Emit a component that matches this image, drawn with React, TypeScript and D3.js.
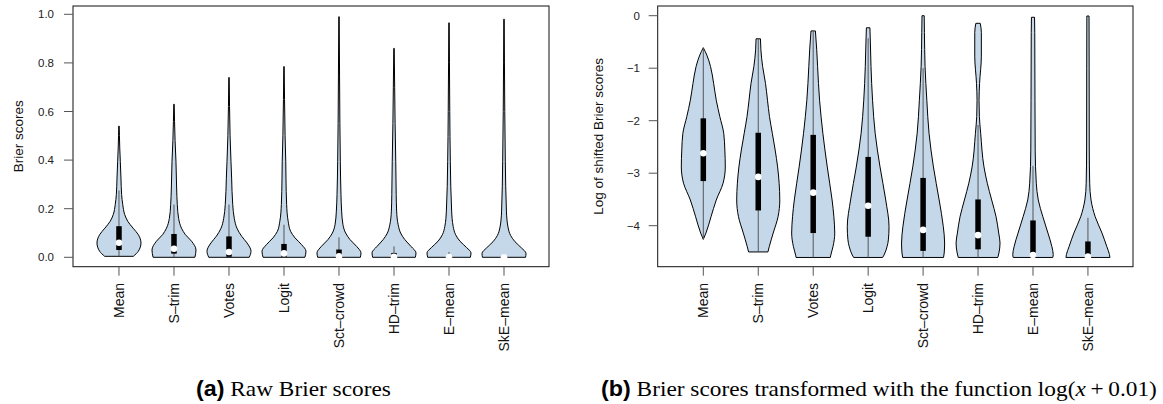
import React, { useEffect, useRef } from "react";
import * as d3 from "d3";

const methods = ["Mean", "S–trim", "Votes", "Logit", "Sct–crowd", "HD–trim", "E–mean", "SkE–mean"];

// raw Brier scores: [lower whisker, q1, median, q3, upper whisker]
const rawStats = [
  [0.004, 0.03, 0.06, 0.128, 0.275],
  [0, 0.015, 0.035, 0.096, 0.217],
  [0, 0.002, 0.022, 0.086, 0.217],
  [0, 0.002, 0.016, 0.055, 0.134],
  [0, 0, 0.004, 0.032, 0.082],
  [0, 0, 0.002, 0.018, 0.045],
  [0, 0, 0.001, 0.009, 0.022],
  [0, 0, 0.0005, 0.004, 0.01],
];

// violin outline: [score, width relative to widest]
const rawShapes = [
  [[0.004, 0.65], [0.025, 0.88], [0.059, 1.0], [0.093, 0.88], [0.12, 0.64], [0.148, 0.4], [0.176, 0.26], [0.217, 0.17], [0.258, 0.12], [0.326, 0.09], [0.395, 0.06], [0.45, 0.035], [0.5, 0.02], [0.54, 0.01]],
  [[0, 0.95], [0.03, 1.0], [0.066, 0.8], [0.093, 0.52], [0.12, 0.34], [0.16, 0.21], [0.217, 0.15], [0.285, 0.12], [0.395, 0.09], [0.48, 0.05], [0.56, 0.025], [0.63, 0.01]],
  [[0, 0.92], [0.025, 1.0], [0.059, 0.82], [0.086, 0.58], [0.12, 0.36], [0.16, 0.24], [0.217, 0.17], [0.326, 0.12], [0.395, 0.09], [0.5, 0.05], [0.62, 0.025], [0.74, 0.01]],
  [[0, 0.95], [0.025, 1.0], [0.052, 0.8], [0.08, 0.5], [0.107, 0.3], [0.148, 0.19], [0.217, 0.12], [0.326, 0.09], [0.395, 0.08], [0.5, 0.05], [0.65, 0.025], [0.785, 0.01]],
  [[0, 0.97], [0.018, 1.0], [0.045, 0.8], [0.073, 0.5], [0.1, 0.3], [0.134, 0.18], [0.19, 0.12], [0.258, 0.09], [0.395, 0.06], [0.55, 0.04], [0.75, 0.025], [0.99, 0.01]],
  [[0, 0.97], [0.018, 1.0], [0.045, 0.77], [0.073, 0.49], [0.1, 0.3], [0.134, 0.19], [0.19, 0.12], [0.258, 0.1], [0.395, 0.08], [0.55, 0.05], [0.7, 0.03], [0.86, 0.01]],
  [[0, 0.97], [0.018, 1.0], [0.04, 0.8], [0.066, 0.5], [0.093, 0.3], [0.127, 0.19], [0.19, 0.12], [0.395, 0.06], [0.6, 0.035], [0.8, 0.02], [0.965, 0.01]],
  [[0, 0.98], [0.016, 1.0], [0.038, 0.8], [0.064, 0.5], [0.09, 0.3], [0.125, 0.18], [0.19, 0.11], [0.395, 0.06], [0.6, 0.035], [0.8, 0.02], [0.98, 0.01]],
];

const rawTicks = [0, 0.2, 0.4, 0.6, 0.8, 1.0];

// log(x + 0.01) of the scores
const logStats = [
  [-4.26, -3.15, -2.62, -1.955, -0.61],
  [-4.5, -3.71, -3.07, -2.23, -0.44],
  [-4.605, -4.14, -3.37, -2.27, -0.29],
  [-4.605, -4.21, -3.62, -2.69, -0.43],
  [-4.605, -4.48, -4.08, -3.09, -1.0],
  [-4.605, -4.45, -4.18, -3.5, -2.08],
  [-4.605, -4.605, -4.56, -3.9, -2.86],
  [-4.605, -4.605, -4.59, -4.3, -3.85],
];

const logShapes = [
  [[-4.26, 0], [-4.14, 0.12], [-3.83, 0.35], [-3.51, 0.59], [-3.19, 0.9], [-2.88, 1.0], [-2.56, 0.98], [-2.24, 0.93], [-1.92, 0.75], [-1.61, 0.59], [-1.29, 0.47], [-0.97, 0.33], [-0.75, 0.16], [-0.61, 0]],
  [[-4.5, 0.44], [-4.4, 0.5], [-4.14, 0.68], [-3.83, 0.9], [-3.51, 0.98], [-3.19, 0.95], [-2.88, 0.88], [-2.56, 0.77], [-2.24, 0.64], [-1.92, 0.51], [-1.61, 0.42], [-1.29, 0.33], [-0.97, 0.2], [-0.65, 0.12], [-0.44, 0.1]],
  [[-4.605, 0.78], [-4.56, 0.8], [-4.4, 0.9], [-4.14, 0.98], [-3.83, 0.94], [-3.51, 0.86], [-3.19, 0.75], [-2.88, 0.64], [-2.24, 0.44], [-1.61, 0.29], [-0.97, 0.2], [-0.65, 0.16], [-0.29, 0.1]],
  [[-4.605, 0.66], [-4.56, 0.72], [-4.4, 0.86], [-4.27, 0.92], [-4.02, 0.95], [-3.51, 0.8], [-2.88, 0.54], [-2.24, 0.32], [-1.61, 0.2], [-0.97, 0.13], [-0.5, 0.1], [-0.23, 0.08]],
  [[-4.605, 0.93], [-4.52, 0.96], [-4.33, 0.98], [-4.02, 0.92], [-3.51, 0.73], [-2.88, 0.47], [-2.24, 0.27], [-1.61, 0.17], [-0.97, 0.09], [-0.32, 0.06], [0, 0.05]],
  [[-4.605, 0.9], [-4.52, 0.95], [-4.33, 1.0], [-4.14, 0.94], [-3.83, 0.82], [-3.51, 0.62], [-3.19, 0.42], [-2.88, 0.27], [-2.24, 0.12], [-1.92, 0.06], [-1.61, 0.045], [-1.29, 0.07], [-0.77, 0.15], [-0.32, 0.15], [-0.145, 0.1]],
  [[-4.605, 0.9], [-4.55, 0.92], [-4.4, 0.86], [-4.14, 0.68], [-3.83, 0.45], [-3.51, 0.24], [-3.19, 0.15], [-2.56, 0.1], [-1.61, 0.09], [-0.32, 0.08], [-0.03, 0.07]],
  [[-4.605, 1.0], [-4.55, 0.98], [-4.4, 0.86], [-4.14, 0.64], [-3.83, 0.33], [-3.51, 0.14], [-3.19, 0.08], [-2.5, 0.06], [-1, 0.055], [-0.006, 0.05]],
];

const logTicks = [0, -1, -2, -3, -4];

const FILL = "#c5d8ea";
const FONT = "'Liberation Sans', Arial, Helvetica, sans-serif";
const SERIF = "'Liberation Serif', 'Times New Roman', serif";

const drawPanel = (svg, p) => {
  const g = svg.append("g");
  const x = d3.scaleLinear().domain(p.xDomain).range([p.left, p.right]);
  const y = d3.scaleLinear().domain(p.yDomain).range(p.yRange);
  const maxHalf = 0.4 * (x(1) - x(0));

  p.shapes.forEach((shape, i) => {
    const cx = x(i);
    const area = d3
      .area()
      .y((d) => y(d[0]))
      .x0((d) => cx - d[1] * maxHalf)
      .x1((d) => cx + d[1] * maxHalf)
      .curve(d3.curveMonotoneY);
    g.append("path").attr("d", area(shape)).attr("fill", FILL).attr("stroke", "#000").attr("stroke-width", 1);

    const [lo, q1, med, q3, hi] = p.stats[i];
    g.append("line").attr("x1", cx).attr("x2", cx).attr("y1", y(lo)).attr("y2", y(hi)).attr("stroke", "#555").attr("stroke-width", 1);
    g.append("rect")
      .attr("x", cx - 2.75)
      .attr("width", 5.5)
      .attr("y", y(q3))
      .attr("height", Math.max(0, y(q1) - y(q3)))
      .attr("fill", "#000");
    g.append("circle").attr("cx", cx).attr("cy", y(med)).attr("r", 3.3).attr("fill", "#fff");
  });

  // frame
  g.append("rect")
    .attr("x", p.left)
    .attr("y", p.top)
    .attr("width", p.right - p.left)
    .attr("height", p.bottom - p.top)
    .attr("fill", "none")
    .attr("stroke", "#111")
    .attr("stroke-width", 1);

  // y axis
  p.ticks.forEach((t) => {
    g.append("line").attr("x1", p.left - 9).attr("x2", p.left).attr("y1", y(t)).attr("y2", y(t)).attr("stroke", "#555");
    g.append("text")
      .attr("x", p.labelX)
      .attr("y", y(t))
      .attr("dy", "0.35em")
      .attr("text-anchor", "end")
      .attr("font-family", FONT)
      .attr("font-size", 11.5)
      .attr("fill", "#222")
      .text(p.tickFormat(t));
  });

  // x axis
  methods.forEach((m, i) => {
    const cx = x(i);
    g.append("line").attr("x1", cx).attr("x2", cx).attr("y1", p.bottom).attr("y2", p.bottom + 9).attr("stroke", "#555");
    g.append("text")
      .attr("transform", `translate(${cx + 5},283) rotate(-90)`)
      .attr("text-anchor", "end")
      .attr("font-family", FONT)
      .attr("font-size", 14)
      .attr("fill", "#111")
      .text(m);
  });

  g.append("text")
    .attr("transform", `translate(${p.titleX},${(p.top + p.bottom) / 2}) rotate(-90)`)
    .attr("text-anchor", "middle")
    .attr("font-family", FONT)
    .attr("font-size", 13.5)
    .attr("fill", "#111")
    .text(p.title);
};

const App = () => {
  const ref = useRef(null);

  useEffect(() => {
    const svg = d3.select(ref.current);
    svg.selectAll("*").remove();

    drawPanel(svg, {
      left: 73,
      right: 549,
      top: 6,
      bottom: 266.7,
      xDomain: [-0.836, 7.818],
      yDomain: [0, 1],
      yRange: [257.3, 14.3],
      ticks: rawTicks,
      tickFormat: d3.format(".1f"),
      labelX: 54,
      stats: rawStats,
      shapes: rawShapes,
      title: "Brier scores",
      titleX: 23,
    });

    drawPanel(svg, {
      left: 657.7,
      right: 1133,
      top: 6,
      bottom: 266.7,
      xDomain: [-0.83, 7.82],
      yDomain: [0, -4],
      yRange: [15.7, 225.7],
      ticks: logTicks,
      tickFormat: (t) => (t === 0 ? "0" : "\u2212" + Math.abs(t)),
      labelX: 640,
      stats: logStats,
      shapes: logShapes,
      title: "Log of shifted Brier scores",
      titleX: 603,
    });

    // captions
    const capA = svg.append("text").attr("transform", "translate(196,396) scale(1.06,1)").attr("font-size", 22).attr("fill", "#000");
    capA.append("tspan").attr("font-family", FONT).attr("font-weight", "bold").text("(a)");
    capA.append("tspan").attr("font-family", SERIF).text(" Raw Brier scores");

    const capB = svg.append("text").attr("transform", "translate(601,396) scale(1.06,1)").attr("font-size", 22).attr("fill", "#000");
    capB.append("tspan").attr("font-family", FONT).attr("font-weight", "bold").text("(b)");
    capB.append("tspan").attr("font-family", SERIF).text(" Brier scores transformed with the function log(");
    capB.append("tspan").attr("font-family", SERIF).attr("font-style", "italic").text("x");
    capB.append("tspan").attr("font-family", SERIF).text("\u2009+\u20090.01)");
  }, []);

  return <svg ref={ref} width={1163} height={404} style={{ position: "absolute", left: 0, top: 0, background: "#fff" }}></svg>;
};

export default App;
